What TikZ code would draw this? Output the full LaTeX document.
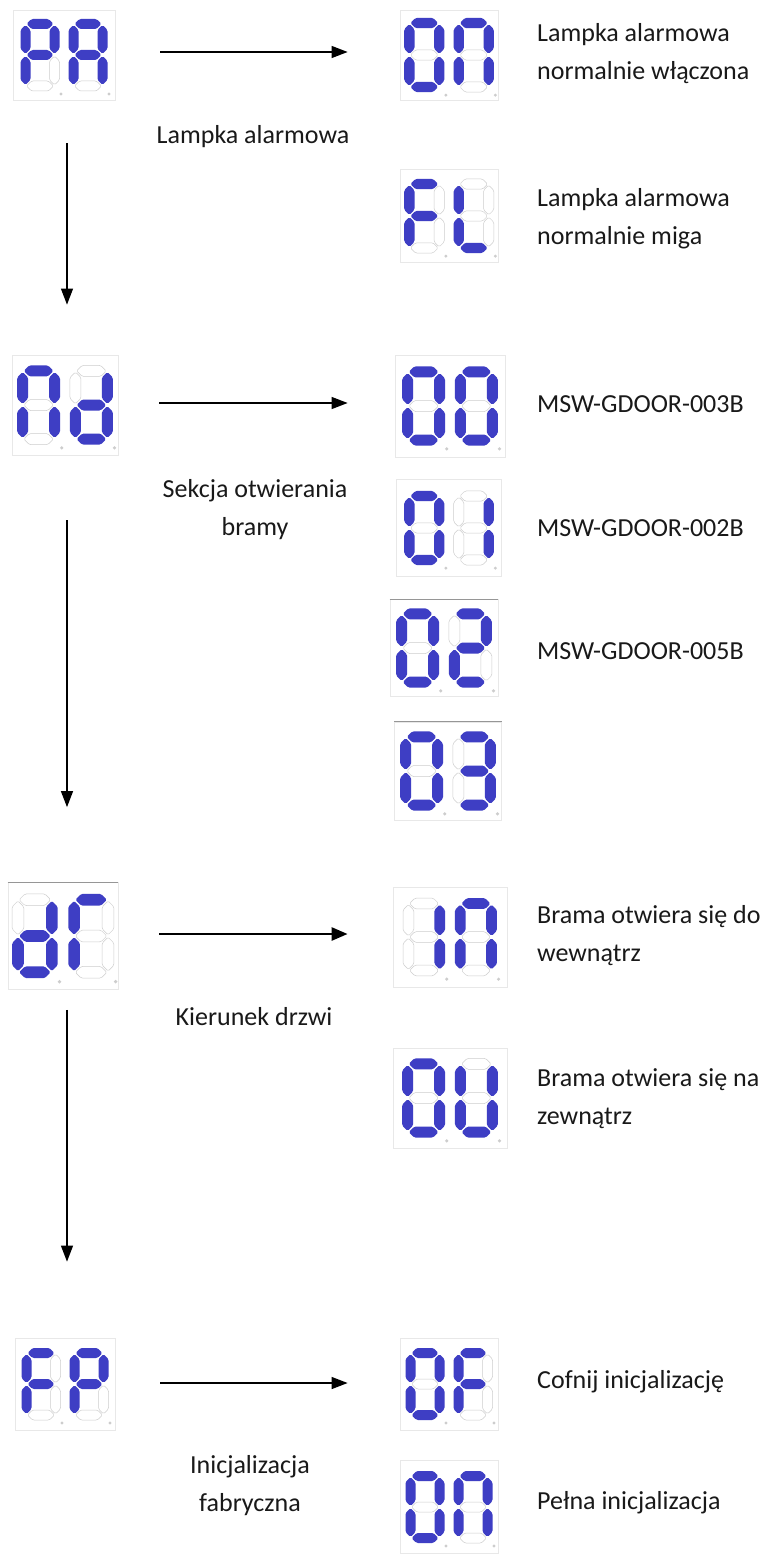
\documentclass[tikz,border=0pt]{standalone}
\usepackage{fontspec}
\setmainfont{Carlito}
\usetikzlibrary{arrows.meta}
\definecolor{segon}{RGB}{62,62,196}
\definecolor{segoff}{RGB}{205,205,205}
\definecolor{boxc}{RGB}{232,232,232}
\definecolor{topc}{RGB}{150,150,150}
\definecolor{txt}{RGB}{25,25,25}

\newcommand\hseg[4]{%
  \ifnum#1=1
    \fill[segon,rounded corners=1.5pt] (#2+1,#4) -- (#2+6,#4-5) -- (#3-6,#4-5) -- (#3-1,#4) -- (#3-6,#4+5) -- (#2+6,#4+5) -- cycle;
  \else
    \draw[segoff,line width=0.5pt,rounded corners=1.5pt] (#2+1,#4) -- (#2+6,#4-5) -- (#3-6,#4-5) -- (#3-1,#4) -- (#3-6,#4+5) -- (#2+6,#4+5) -- cycle;
  \fi}
\newcommand\vseg[4]{%
  \ifnum#1=1
    \fill[segon,rounded corners=1.5pt] (#2,#3+1) -- (#2+5,#3+6) -- (#2+5,#4-6) -- (#2,#4-1) -- (#2-5,#4-6) -- (#2-5,#3+6) -- cycle;
  \else
    \draw[segoff,line width=0.5pt,rounded corners=1.5pt] (#2,#3+1) -- (#2+5,#3+6) -- (#2+5,#4-6) -- (#2,#4-1) -- (#2-5,#4-6) -- (#2-5,#3+6) -- cycle;
  \fi}
\def\sdparse#1#2#3#4#5#6#7\relax{%
  \hseg{#1}{-14.5}{14.5}{-31}%
  \vseg{#2}{14.5}{-31}{0}%
  \vseg{#3}{14.5}{0}{31}%
  \hseg{#4}{-14.5}{14.5}{31}%
  \vseg{#5}{-14.5}{0}{31}%
  \vseg{#6}{-14.5}{-31}{0}%
  \hseg{#7}{-14.5}{14.5}{0}%
  \fill[segoff] (21,39) circle (1.6pt);}
\newcommand\sdigit[2]{\begin{scope}[shift={(#1,0)}]\sdparse#2\relax\end{scope}}
\newcommand\dispdigits[4]{%
  \begin{scope}[shift={(#1.center)},scale=#2]
    \sdigit{-24}{#3}\sdigit{24}{#4}
  \end{scope}}

\begin{document}
\begin{tikzpicture}[x=1pt,y=-1pt,
  dispbox/.style={draw=boxc,line width=0.8pt,inner sep=0pt},
  arr/.style={-{Triangle[length=16pt,width=12pt]},line width=1.3pt,black},
  boldarr/.style={-{Triangle[length=16pt,width=13pt]},line width=2.6pt,black},
  topline/.style={draw=topc,line width=1.2pt},
  lbl/.style={font=\fontsize{26}{38}\selectfont,text=txt,inner sep=0pt,align=center},
  rlbl/.style={font=\fontsize{26}{38}\selectfont,text=txt,inner sep=0pt,align=left,anchor=west}]
\useasboundingbox[fill=white] (0,0) rectangle (768,1554);

% displays
\node[dispbox,minimum width=102pt,minimum height=90pt] (PA) at (64,55) {};
\node[dispbox,minimum width=98pt,minimum height=90pt] (ON1) at (449,55) {};
\node[dispbox,minimum width=98pt,minimum height=93pt] (FL) at (449,216) {};
\node[dispbox,minimum width=106pt,minimum height=100pt] (ND) at (65,405) {};
\node[dispbox,minimum width=110pt,minimum height=102pt] (D00) at (450,406) {};
\node[dispbox,minimum width=105pt,minimum height=97pt] (D01) at (449,528) {};
\node[dispbox,minimum width=108pt,minimum height=97pt] (D02) at (444,648) {};
\node[dispbox,minimum width=107pt,minimum height=98pt] (D03) at (448,771) {};
\node[dispbox,minimum width=110pt,minimum height=107pt] (DR) at (63,936) {};
\node[dispbox,minimum width=114pt,minimum height=100pt] (IN) at (450,937) {};
\node[dispbox,minimum width=114pt,minimum height=100pt] (OU) at (450,1098) {};
\node[dispbox,minimum width=100pt,minimum height=92pt] (FP) at (65,1384) {};
\node[dispbox,minimum width=98pt,minimum height=92pt] (OF) at (449,1384) {};
\node[dispbox,minimum width=98pt,minimum height=93pt] (ON2) at (449,1507) {};

\draw[topline] (D02.north west) -- (D02.north east);
\draw[topline] (D03.north west) -- (D03.north east);
\draw[topline] (DR.north west) -- (DR.north east);

% digits: a b c d e f g
\dispdigits{PA}{1.0}{1100111}{1110111}
\dispdigits{ON1}{1.03}{1111110}{1110110}
\dispdigits{FL}{1.03}{1000111}{0001110}
\dispdigits{ND}{1.1}{1110110}{0111101}
\dispdigits{D00}{1.1}{1111110}{1111110}
\dispdigits{D01}{1.03}{1111110}{0110000}
\dispdigits{D02}{1.1}{1111110}{1101101}
\dispdigits{D03}{1.1}{1111110}{1111001}
\dispdigits{DR}{1.17}{0111101}{1000110}
\dispdigits{IN}{1.08}{0110000}{1110110}
\dispdigits{OU}{1.1}{1111110}{0111110}
\dispdigits{FP}{1.0}{1000111}{1100111}
\dispdigits{OF}{1.0}{1111110}{1000111}
\dispdigits{ON2}{1.0}{1111110}{1110110}

% horizontal arrows
\draw[arr,shorten <=45pt,shorten >=52pt] ([yshift=3pt]PA.east) -- ([yshift=3pt]PA.east -| ON1.west);
\draw[arr,shorten <=41pt,shorten >=47pt] ([yshift=2pt]ND.east) -- ([yshift=2pt]ND.east -| D00.west);
\draw[boldarr,shorten <=41pt,shorten >=45pt] ([yshift=2pt]DR.east) -- ([yshift=2pt]DR.east -| IN.west);
\draw[arr,shorten <=45pt,shorten >=52pt] ([yshift=1pt]FP.east) -- ([yshift=1pt]FP.east -| OF.west);

% vertical arrows
\draw[arr,shorten <=43pt,shorten >=50pt] ([xshift=3pt]PA.south) -- ([xshift=3pt]PA.south |- ND.north);
\draw[arr,shorten <=65pt,shorten >=75pt] ([xshift=2pt]ND.south) -- ([xshift=2pt]ND.south |- DR.north);
\draw[arr,shorten <=20pt,shorten >=76pt] ([xshift=4pt]DR.south) -- ([xshift=4pt]DR.south |- FP.north);

% labels
\node[lbl] (tPA) at (253,137) {Lampka alarmowa};
\node[rlbl] (tON1) at (537,54) {Lampka alarmowa\\normalnie włączona};
\node[rlbl] (tFL) at (537,219) {Lampka alarmowa\\normalnie miga};
\node[lbl] (tND) at (255,510) {Sekcja otwierania\\bramy};
\node[rlbl] (t00) at (537,404) {MSW-GDOOR-003B};
\node[rlbl] (t01) at (537,528) {MSW-GDOOR-002B};
\node[rlbl] (t02) at (537,651) {MSW-GDOOR-005B};
\node[rlbl] (tIN) at (537,936) {Brama otwiera się do\\wewnątrz};
\node[lbl] (tDR) at (254,1017) {Kierunek drzwi};
\node[rlbl] (tOU) at (537,1099) {Brama otwiera się na\\zewnątrz};
\node[rlbl] (tOF) at (537,1382) {Cofnij inicjalizację};
\node[lbl] (tFP) at (250,1486) {Inicjalizacja\\fabryczna};
\node[rlbl] (tON2) at (537,1503) {Pełna inicjalizacja};
\end{tikzpicture}
\end{document}
